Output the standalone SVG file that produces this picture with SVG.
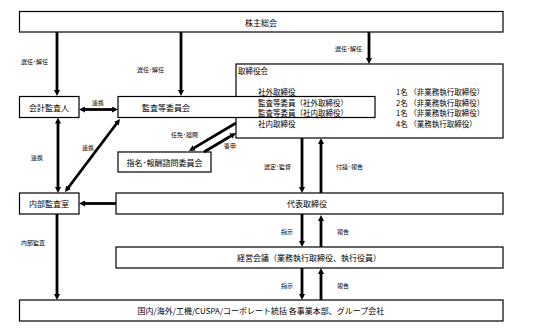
<svg xmlns="http://www.w3.org/2000/svg" width="533" height="333" viewBox="0 0 533 333">
<style>
.box{fill:#fff;stroke:#000;stroke-width:1.2}
.t{font-family:"Noto Sans CJK JP","Liberation Sans",sans-serif;font-size:8px;fill:#000;dominant-baseline:central}
.m{text-anchor:middle}
.s{font-size:7.5px}
.l{font-family:"Noto Sans CJK JP","Liberation Sans",sans-serif;font-size:6px;fill:#000;dominant-baseline:central}
.c{fill:none;stroke:#000;stroke-width:2.8}
.a{marker-end:url(#ah)}
.b{marker-start:url(#ah);marker-end:url(#ah)}
</style>
<defs>
<marker id="ah" markerUnits="userSpaceOnUse" markerWidth="6" markerHeight="6" viewBox="0 0 6 6" refX="1" refY="3" orient="auto-start-reverse">
<path d="M0,0 L6,3 L0,6 z" fill="#000"/>
</marker>
</defs>
<rect width="533" height="333" fill="#fff"/>

<g id="kabunushi">
<rect class="box" x="19.5" y="11.5" width="483.5" height="20.5"/>
<text class="t m" x="261" y="22">株主総会</text>
</g>

<g id="torishimariyakukai">
<rect class="box" x="236" y="64" width="267" height="74"/>
</g>

<g id="kaikei">
<rect class="box" x="19.5" y="96.5" width="59.5" height="21"/>
<text class="t m" x="49" y="107">会計監査人</text>
</g>

<g id="kansatou">
<rect class="box" x="118" y="96.5" width="257" height="21"/>
<text class="t" x="142" y="107">監査等委員会</text>
</g>

<g id="torishimariyakukai-text">
<text class="t s" x="238" y="70">取締役会</text>
<text class="t s" x="258" y="91.5">社外取締役</text>
<text class="t s" x="258" y="102">監査等委員（社外取締役）</text>
<text class="t s" x="258" y="112.5">監査等委員（社内取締役）</text>
<text class="t s" x="258" y="123.5">社内取締役</text>
<text class="t s" x="396" y="91.5">1名 （非業務執行取締役）</text>
<text class="t s" x="396" y="102">2名 （非業務執行取締役）</text>
<text class="t s" x="396" y="112.5">1名 （非業務執行取締役）</text>
<text class="t s" x="396" y="123.5">4名 （業務執行取締役）</text>
</g>

<g id="shimei">
<rect class="box" x="118" y="152" width="93" height="20"/>
<text class="t m" x="164.5" y="162">指名･報酬諮問委員会</text>
</g>

<g id="naibu">
<rect class="box" x="19.5" y="193" width="59.5" height="21"/>
<text class="t m" x="49" y="203.5">内部監査室</text>
</g>

<g id="daihyo">
<rect class="box" x="116" y="193" width="387" height="21"/>
<text class="t m" x="307" y="203.5">代表取締役</text>
</g>

<g id="keiei">
<rect class="box" x="116" y="247" width="387" height="21"/>
<text class="t m" x="309" y="257.5">経営会議（業務執行取締役、執行役員）</text>
</g>

<g id="jigyou">
<rect class="box" x="19.5" y="300" width="483.5" height="21"/>
<text class="t m" x="261" y="310.5">国内/海外/工機/CUSPA/コーポレート統括  各事業本部、グループ会社</text>
</g>

<g id="connectors">
<path class="c a" d="M57,32 V91"/>
<path class="c a" d="M181,32 V91"/>
<path class="c a" d="M369,32 V59"/>
<path class="c b" d="M84,109.5 H113"/>
<path class="c b" d="M58,122.5 V188"/>
<path class="c b" d="M117,123 L68,188"/>
<path class="c a" d="M236,123 L193.3,148.4"/>
<path class="c a" d="M204,152 L231.7,135.5"/>
<path class="c a" d="M302,138 V188"/>
<path class="c a" d="M321,193 V143"/>
<path class="c a" d="M116,203.5 H84"/>
<path class="c a" d="M302,214 V242"/>
<path class="c a" d="M321,247 V220"/>
<path class="c a" d="M302,268 V295"/>
<path class="c a" d="M321,300 V273"/>
<path class="c a" d="M57,214 V295"/>
</g>

<g id="labels">
<text class="l" x="21" y="61">選任･解任</text>
<text class="l" x="137" y="69">選任･解任</text>
<text class="l" x="335" y="48">選任･解任</text>
<text class="l" x="92" y="102">連携</text>
<text class="l" x="31" y="157">連携</text>
<text class="l" x="82" y="147">連携</text>
<text class="l" x="171" y="134">任免･諮問</text>
<text class="l" x="224" y="145">答申</text>
<text class="l" x="264" y="166">選定･監督</text>
<text class="l" x="336" y="166">付議･報告</text>
<text class="l" x="281" y="231">指示</text>
<text class="l" x="337" y="231">報告</text>
<text class="l" x="281" y="285">指示</text>
<text class="l" x="337" y="285">報告</text>
<text class="l" x="21" y="242">内部監査</text>
</g>
</svg>
